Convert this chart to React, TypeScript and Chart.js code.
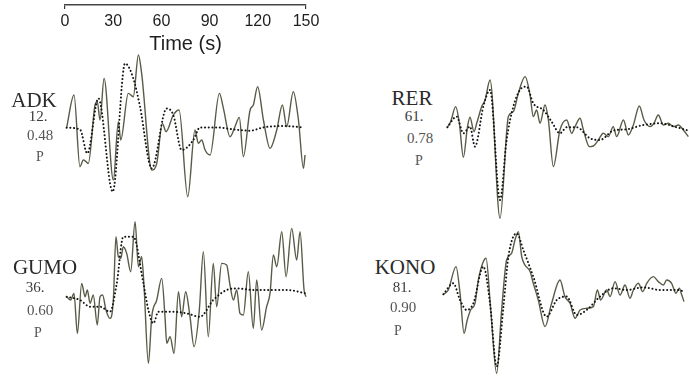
import { useEffect, useRef } from "react";
import { Chart, registerables } from "chart.js";

Chart.register(...registerables);

// ---------- data ----------
const timeTicks = [0, 30, 60, 90, 120, 150];
const timeTitle = "Time (s)";

const stations = ["ADK", "RER", "GUMO", "KONO"];
const distances = ["12.", "61.", "36.", "81."];
const fits = ["0.48", "0.78", "0.60", "0.90"];
const phases = ["P", "P", "P", "P"];

// observed (solid) and synthetic (dotted) traces: time (s) and amplitude
const adkObsT = [1.0, 5.6, 9.3, 11.4, 13.1, 14.5, 18.7, 20.1, 21.8, 24.3, 30.1, 33.2, 34.7, 39.4, 42.5, 45.7, 47.7, 54.0, 57.1, 60.6, 62.9, 67.4, 71.0, 76.4, 80.9, 83.0, 85.1, 87.2, 90.3, 96.1, 98.6, 102.7, 105.8, 108.5, 111.0, 115.2, 117.2, 119.9, 123.5, 127.6, 131.8, 135.3, 138.0, 142.1, 145.3, 148.4, 149.4];
const adkObsA = [0, 32.7, -39, -32.3, -34, -35.7, 22.7, 26, 7.7, 49.3, -52.3, 6, -12.3, 34.3, 31, 72.7, 54.3, -42.3, -35.7, 4.3, -4, 12.7, 17.7, -69, -2.3, -15.7, -12.3, -22.3, -27.3, 34.3, 19.3, -9, 1, 10.3, -29, 17.7, 22.7, 41, 7.7, -20.7, -2.3, 22.7, 1, 36, 7.7, -40.7, -27.3];
const adkSynT = [1.0, 9.3, 13.9, 20.8, 29.7, 37.4, 42.5, 46.7, 54.0, 63.3, 67.4, 72.6, 79.9, 84.0, 94.4, 104.8, 115.2, 123.5, 135.9, 148.4];
const adkSynA = [0, -1.7, -25.7, 29.3, -64, 64.3, 49.3, 21, -40.7, 19.3, 12.7, -22.3, -12.3, 0.3, 0.3, -1.7, -3, 0.3, 1.7, 0.3];

const rerObsT = [0.2, 2.3, 5.4, 7.7, 10.2, 12.7, 14.3, 16.8, 18.5, 21.6, 23.7, 26.8, 33.0, 38.2, 41.3, 44.4, 48.6, 51.7, 53.7, 55.8, 57.9, 61.0, 63.1, 66.2, 70.3, 74.5, 77.6, 79.7, 82.8, 84.9, 88.6, 91.1, 94.2, 97.3, 100.4, 103.5, 105.6, 109.8, 112.9, 116.0, 119.7, 122.6, 126.4, 128.8, 131.5, 134.7, 137.8, 140.9, 144.0, 147.1, 150.2];
const rerObsA = [0, 5.7, 20.7, 4, -30, 0, 10, -4.3, 4, 20.7, 27.3, 47.3, -91, 10.7, 15.7, 34, 50.7, 32.3, 10.7, 17.3, 4, 22.3, 7.3, -39.3, -2.7, 7.3, -6, 0.7, 9, -2.7, -19.3, -18.7, -12.7, -6, -9.3, 0.7, -9.3, 7.3, -7.7, 2.3, 21.3, 7.3, 0.7, 4, 12.3, 2.3, 4, 0.7, 2.3, -2.7, -9.3];
const rerSynT = [0.2, 6.0, 10.2, 14.3, 17.4, 22.6, 26.8, 33.0, 37.1, 41.3, 45.4, 49.6, 53.7, 60.0, 65.1, 70.3, 74.5, 80.7, 89.0, 95.2, 103.5, 111.8, 122.2, 132.6, 143.0, 150.2];
const rerSynA = [0, 10.7, -6, 0.7, -19.3, 20.7, 37.3, -72.7, -12.7, 20.7, 37.3, 40.7, 24, 17.3, 5.7, -6, 0, 0, -11, -12.7, -3.3, -2, 2.3, 4, 0, -3.3];

const gumoObsT = [1.0, 3.5, 5.6, 7.7, 10.4, 12.5, 13.9, 15.6, 17.6, 20.1, 21.8, 23.4, 25.5, 28.0, 30.1, 31.7, 33.2, 34.7, 36.3, 38.4, 40.9, 43.6, 45.7, 47.7, 49.2, 51.9, 54.0, 57.1, 60.2, 62.3, 63.3, 65.4, 67.9, 70.6, 72.6, 75.1, 77.8, 80.3, 83.6, 86.1, 89.2, 92.3, 94.4, 97.5, 100.6, 102.7, 104.8, 106.9, 108.9, 111.0, 114.1, 117.2, 119.3, 122.4, 125.5, 127.6, 129.7, 131.8, 134.9, 137.6, 141.1, 144.2, 146.3, 148.8, 150.0];
const gumoObsA = [0, -3.3, 3.3, -36.7, 13.3, 0, 6.7, -6.7, 1.7, -28.3, 0, 1.7, -13.3, -21.7, -3.3, 60, 40, 38.3, 50, 43.3, 25, 75, 30, 40, 10, -66.7, -20, -3.3, 18.3, -21.7, -46.7, -40, -56.7, 5, -20, 5, -20, -50, -13.3, 45, -40, 33.3, -10, 33.3, 31.7, 11.7, -3.3, 6.7, -16.7, -18.3, 25, -31.7, 16.7, -33.3, -10, 3.3, 41.7, 30, 65, 20, 68.3, 36.7, 65, 6.7, 0];
const gumoSynT = [1.0, 9.3, 15.6, 21.8, 28.0, 32.2, 36.3, 42.5, 48.8, 51.9, 55.0, 58.1, 67.4, 75.7, 84.0, 92.3, 100.6, 106.9, 117.2, 125.5, 138.0, 150.0];
const gumoSynA = [0, -3.3, -10, -10, -15, 13.3, 60, 60, 13.3, -13.3, -26.7, -15, -15, -16.7, -20, -3.3, 6.7, 8.3, 6.7, 6.7, 6.7, 3.3];

const konoObsT = [0.2, 3.3, 8.1, 10.6, 13.1, 15.1, 17.2, 19.9, 22.0, 24.7, 26.8, 29.7, 33.4, 36.5, 39.6, 42.7, 44.8, 46.9, 49.0, 51.0, 54.2, 56.2, 59.3, 63.5, 67.6, 72.8, 75.9, 79.1, 82.2, 85.3, 89.4, 93.6, 96.1, 98.1, 101.9, 104.0, 107.1, 110.2, 113.3, 116.4, 118.5, 121.6, 124.3, 126.8, 130.9, 134.0, 137.2, 139.2, 142.3, 145.0, 147.1, 148.6, 150.0];
const konoObsA = [0, 4.3, 27.7, 1, -39, -25.7, -15.7, -9, 14.3, 31, 36, -15.7, -79, -15.7, 34.3, 41, 54.3, 62.7, 37.7, 29.3, 22.7, 11, -5.7, -32.3, -9, 14.3, -2.3, -9, -24, -15.7, -14, -12.3, 4.3, -5.7, 4.3, -2.3, 12.7, -0.7, 9.3, -4, 4.3, 11, 2.7, 11, 17.7, 12.7, 9.3, 14.3, 11, 1, 6, -0.7, -7.3];
const konoSynT = [0.2, 6.4, 10.6, 14.7, 18.9, 25.1, 29.3, 33.4, 37.6, 40.7, 45.9, 50.0, 56.2, 64.5, 70.8, 77.0, 83.2, 89.4, 97.7, 106.0, 114.3, 124.7, 135.1, 145.5, 150.6];
const konoSynA = [0, 11, -5.7, -15.7, -9, 27.7, -9, -72.3, -12.3, 37.7, 61, 44.3, 17.7, -22.3, -5.7, -2.3, -20.7, -15.7, -2.3, 6, 4.3, 7, 4.3, 4.3, 2.7];

const obsT = [adkObsT, rerObsT, gumoObsT, konoObsT];
const obsA = [adkObsA, rerObsA, gumoObsA, konoObsA];
const synT = [adkSynT, rerSynT, gumoSynT, konoSynT];
const synA = [adkSynA, rerSynA, gumoSynA, konoSynA];

// ---------- layout ----------
const W = 689;
const H = 376;
const PAD = 3;
const panels = [
  { left: 65, top: 40, width: 241, height: 170, yMin: -82.3, yMax: 87.7 },
  { left: 447, top: 40, width: 241, height: 180, yMin: -92.7, yMax: 87.3 },
  { left: 65, top: 200, width: 241, height: 176, yMin: -79.3, yMax: 96.7 },
  { left: 443, top: 200, width: 241, height: 176, yMin: -81.7, yMax: 94.3 },
];
const labelPos = [
  { name: [34, 100], dist: [38, 116], fit: [40, 135], ph: [40, 157] },
  { name: [412, 98], dist: [414, 116], fit: [420, 138], ph: [419, 161] },
  { name: [45, 267], dist: [35, 287], fit: [40, 310], ph: [38, 333] },
  { name: [405, 267], dist: [402, 287], fit: [403, 307], ph: [398, 331] },
];

const SOLID = "#585c46";
const DOTTED = "#141414";
const SERIF = "'Liberation Serif', 'DejaVu Serif', serif";
const SANS = "'Liberation Sans', Arial, sans-serif";

export default function App() {
  const scaleRef = useRef<HTMLCanvasElement | null>(null);
  const traceRefs = useRef<(HTMLCanvasElement | null)[]>([]);

  useEffect(() => {
    document.body.style.margin = "0";
    document.body.style.background = "#ffffff";
    const charts: Chart[] = [];

    if (scaleRef.current) {
      charts.push(
        new Chart(scaleRef.current, {
          type: "line",
          data: { datasets: [{ data: [] }] },
          options: {
            responsive: false,
            animation: false,
            devicePixelRatio: 1,
            layout: { padding: { left: 20, right: 20, top: 0, bottom: 0 } },
            plugins: { legend: { display: false }, tooltip: { enabled: false } },
            scales: {
              x: {
                type: "linear",
                position: "bottom",
                min: timeTicks[0],
                max: timeTicks[timeTicks.length - 1],
                afterBuildTicks: (s: any) => {
                  s.ticks = timeTicks.map((v) => ({ value: v }));
                },
                afterFit: (s: any) => {
                  s.height = 57;
                },
                ticks: {
                  color: "#1e1e1e",
                  font: { family: SANS, size: 16 },
                  padding: 3,
                  maxRotation: 0,
                  autoSkip: false,
                },
                grid: {
                  drawOnChartArea: false,
                  drawTicks: true,
                  tickLength: 4,
                  color: (ctx: any) =>
                    ctx.index === 0 || ctx.index === timeTicks.length - 1 ? "#333" : "rgba(0,0,0,0)",
                  lineWidth: 1.2,
                },
                border: { display: true, color: "#444", width: 1.6 },
                title: {
                  display: true,
                  text: timeTitle,
                  color: "#1e1e1e",
                  font: { family: SANS, size: 20 },
                  padding: { top: 0, bottom: 6 },
                },
              },
              y: { display: false },
            },
          },
        })
      );
    }

    panels.forEach((p, i) => {
      const cv = traceRefs.current[i];
      if (!cv) return;
      const obs = obsT[i].map((t, k) => ({ x: t, y: obsA[i][k] }));
      const syn = synT[i].map((t, k) => ({ x: t, y: synA[i][k] }));
      charts.push(
        new Chart(cv, {
          type: "line",
          data: {
            datasets: [
              {
                data: syn,
                borderColor: DOTTED,
                borderWidth: 2,
                borderDash: [0.1, 3.6],
                borderCapStyle: "round",
                pointRadius: 0,
                cubicInterpolationMode: "monotone",
                clip: false as any,
              },
              {
                data: obs,
                borderColor: SOLID,
                borderWidth: 1.4,
                pointRadius: 0,
                cubicInterpolationMode: "monotone",
                clip: false as any,
              },
            ],
          },
          options: {
            responsive: false,
            animation: false,
            devicePixelRatio: 1,
            layout: { padding: { left: PAD, right: PAD, top: 0, bottom: 0 } },
            plugins: { legend: { display: false }, tooltip: { enabled: false } },
            scales: {
              x: { type: "linear", display: false, min: timeTicks[0], max: timeTicks[timeTicks.length - 1] },
              y: { type: "linear", display: false, min: p.yMin, max: p.yMax },
            },
          },
        })
      );
    });

    return () => charts.forEach((c) => c.destroy());
  }, []);

  const txt = (s: string, pos: number[], size: number, color: string, key: string) => (
    <div
      key={key}
      style={{
        position: "absolute",
        left: pos[0],
        top: pos[1],
        transform: "translate(-50%, -50%)",
        fontFamily: SERIF,
        fontSize: size,
        lineHeight: 1,
        color,
        whiteSpace: "nowrap",
      }}
    >
      {s}
    </div>
  );

  return (
    <div style={{ position: "relative", width: W, height: H, background: "#fff", overflow: "hidden" }}>
      <canvas
        ref={scaleRef}
        width={281}
        height={62}
        style={{ position: "absolute", left: 45, top: 0, width: 281, height: 62 }}
      />
      {panels.map((p, i) => (
        <canvas
          key={"c" + i}
          ref={(el) => {
            traceRefs.current[i] = el;
          }}
          width={p.width + 2 * PAD}
          height={p.height}
          style={{ position: "absolute", left: p.left - PAD, top: p.top, width: p.width + 2 * PAD, height: p.height }}
        />
      ))}
      {stations.map((s, i) => [
        txt(s, labelPos[i].name, 21, "#2a2a2a", "n" + i),
        txt(distances[i], labelPos[i].dist, 15, "#3a3a3a", "d" + i),
        txt(fits[i], labelPos[i].fit, 15, "#555", "f" + i),
        txt(phases[i], labelPos[i].ph, 14, "#555", "p" + i),
      ])}
    </div>
  );
}
